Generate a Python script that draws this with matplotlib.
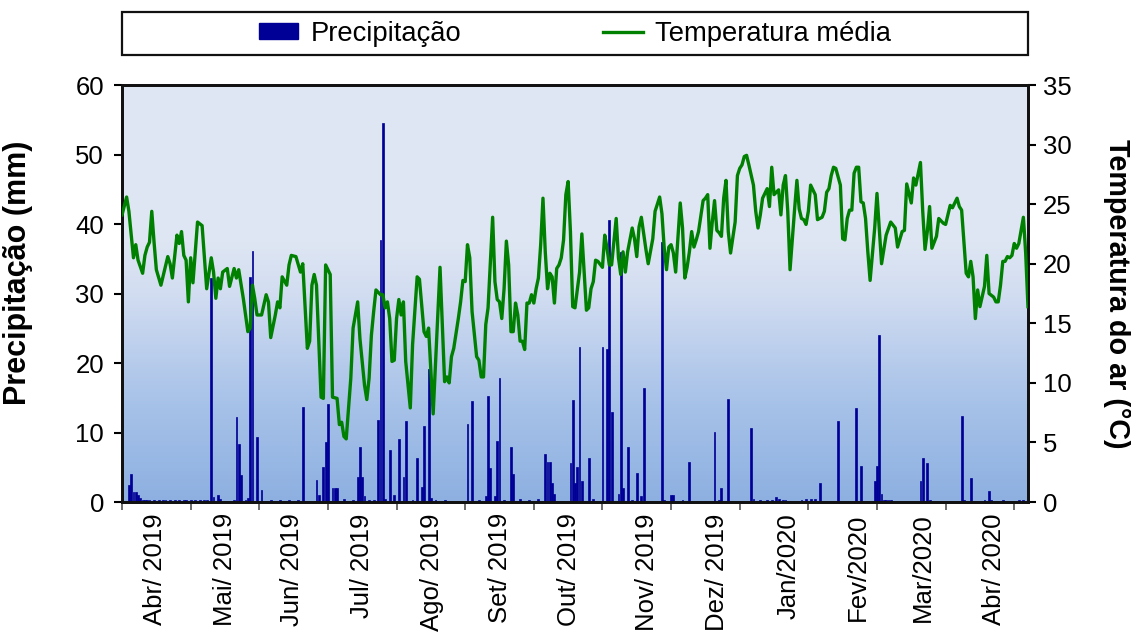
import numpy as np
import matplotlib
matplotlib.use('Agg')
import matplotlib.pyplot as plt
from matplotlib.colors import LinearSegmentedColormap
from matplotlib.patches import Rectangle
from matplotlib.lines import Line2D

plt.rcParams['font.family'] = ['Liberation Sans', 'DejaVu Sans']

# daily series, day 0 = first day of record (late Mar 2019)
n_days = 397

# mean air temperature (deg C), vertices
temp_day = [0, 2, 3, 5, 6, 7, 9, 10, 11, 12, 13, 14, 15, 17, 20, 21, 22, 24, 25, 26,
            27, 28, 29, 30, 31, 33, 35, 37, 39, 40, 41, 42, 43, 44, 46, 47, 49, 50, 51, 53,
            55, 56, 57, 58, 59, 61, 63, 64, 65, 67, 68, 69, 70, 72, 73, 74, 76, 78, 79, 81,
            82, 83, 84, 85, 87, 88, 89, 91, 92, 94, 95, 96, 97, 98, 100, 101, 103, 104, 106, 107,
            108, 109, 110, 111, 113, 114, 115, 116, 117, 118, 119, 120, 121, 122, 123, 124, 126, 127, 129, 130,
            132, 133, 134, 136, 139, 141, 142, 143, 144, 145, 147, 148, 149, 150, 151, 152, 153, 155, 156, 157,
            158, 159, 160, 162, 163, 164, 165, 166, 167, 168, 169, 170, 171, 172, 173, 174, 175, 176, 177, 178,
            179, 180, 181, 182, 183, 184, 185, 186, 187, 188, 189, 190, 191, 192, 193, 194, 195, 196, 197, 198,
            200, 201, 203, 204, 205, 206, 207, 208, 210, 211, 212, 213, 214, 216, 217, 218, 219, 220, 221, 223,
            224, 225, 226, 227, 229, 230, 232, 233, 235, 236, 237, 238, 239, 240, 241, 242, 244, 245, 246, 247,
            248, 249, 250, 251, 252, 254, 255, 256, 257, 258, 259, 260, 261, 262, 263, 264, 265, 266, 268, 269,
            270, 271, 272, 273, 274, 276, 277, 278, 279, 280, 282, 283, 284, 285, 286, 287, 288, 289, 290, 291,
            292, 294, 295, 296, 297, 298, 299, 300, 301, 303, 304, 306, 307, 308, 309, 310, 311, 312, 314, 315,
            316, 317, 318, 319, 320, 321, 322, 323, 324, 325, 326, 327, 329, 330, 332, 334, 336, 338, 339, 341,
            342, 343, 345, 346, 347, 349, 350, 351, 352, 353, 354, 356, 357, 359, 360, 361, 362, 363, 365, 366,
            367, 368, 369, 370, 371, 372, 373, 374, 375, 377, 378, 379, 381, 382, 383, 384, 385, 386, 387, 388,
            389, 390, 391, 392, 394, 395, 396]
temp_c = [24.1, 25.6, 24.4, 20.5, 21.6, 20.3, 19.2, 20.7, 21.4, 21.8, 24.4, 21.8, 19.5, 18.2, 20.6, 20.0, 18.8, 22.4, 21.7, 22.7,
          20.7, 20.3, 16.8, 20.5, 18.4, 23.5, 23.2, 17.9, 20.5, 19.3, 17.1, 18.8, 17.9, 19.3, 19.6, 18.1, 19.6, 18.8, 19.5, 17.1,
          14.3, 14.6, 18.2, 17.1, 15.7, 15.7, 17.4, 16.8, 13.8, 15.7, 16.8, 16.3, 18.9, 18.2, 19.9, 20.7, 20.6, 19.3, 20.0, 12.9,
          13.5, 18.2, 19.1, 18.2, 8.8, 8.7, 19.9, 19.1, 8.8, 8.7, 6.5, 6.7, 5.5, 5.3, 10.4, 14.6, 16.8, 13.7, 9.8, 8.6,
          10.4, 14.0, 16.0, 17.8, 17.4, 17.4, 16.3, 16.8, 15.4, 11.8, 11.9, 15.4, 17.0, 15.7, 16.8, 11.8, 7.9, 13.2, 18.9, 18.7,
          14.3, 13.9, 14.6, 7.4, 19.7, 10.1, 10.5, 10.0, 12.2, 12.9, 15.4, 16.8, 18.6, 18.5, 21.6, 20.5, 16.0, 12.2, 11.9, 10.5,
          10.5, 14.9, 16.3, 23.9, 18.5, 17.0, 16.8, 15.4, 17.9, 21.9, 19.9, 14.3, 14.3, 16.7, 15.7, 13.5, 13.5, 12.8, 16.7, 16.7,
          17.4, 16.7, 17.9, 18.8, 21.6, 25.5, 21.0, 17.9, 19.2, 18.9, 16.7, 19.6, 19.9, 20.5, 22.0, 25.8, 26.9, 22.7, 16.4, 16.3,
          19.3, 22.5, 16.1, 16.3, 17.9, 18.5, 20.3, 20.2, 19.7, 22.4, 21.3, 19.9, 19.9, 23.8, 20.5, 19.1, 21.0, 19.3, 21.0, 23.0,
          22.1, 20.6, 23.1, 23.9, 21.2, 20.0, 22.1, 24.4, 25.6, 24.2, 21.3, 19.5, 21.4, 21.6, 20.9, 19.3, 25.1, 23.0, 18.8, 19.7,
          21.0, 22.7, 21.4, 22.0, 22.7, 25.3, 25.5, 25.8, 21.3, 23.5, 25.3, 22.8, 22.6, 22.3, 25.5, 27.0, 22.7, 20.9, 23.5, 27.4,
          28.0, 28.3, 29.0, 29.1, 28.3, 26.6, 24.4, 23.0, 24.1, 25.5, 26.3, 24.8, 28.1, 25.8, 26.0, 26.2, 24.1, 26.6, 27.4, 24.4,
          19.5, 24.6, 27.0, 24.6, 23.8, 23.7, 23.3, 24.4, 26.6, 25.8, 23.7, 23.9, 24.4, 26.0, 26.3, 27.4, 28.1, 28.0, 26.6, 22.1,
          22.0, 23.8, 24.5, 24.5, 27.6, 28.1, 28.1, 25.2, 25.1, 23.8, 21.0, 18.6, 23.0, 25.9, 20.0, 22.4, 23.5, 23.0, 21.4, 22.7,
          22.8, 26.7, 25.1, 27.2, 26.6, 28.5, 24.4, 21.2, 22.7, 24.8, 21.3, 22.3, 23.8, 23.4, 23.3, 24.1, 24.9, 24.7, 25.5, 24.8,
          24.5, 21.8, 19.2, 18.9, 20.2, 18.9, 15.4, 17.8, 16.4, 18.1, 20.7, 17.5, 17.2, 16.8, 16.8, 18.2, 20.2, 20.2, 20.6, 20.5,
          20.7, 21.7, 21.3, 21.7, 23.9, 20.9, 16.4]

# precipitation (mm) on rainy days
precip_day = [3, 4, 5, 6, 7, 8, 9, 10, 11, 12, 14, 16, 18, 19, 21, 23, 25, 27, 28, 30,
              32, 34, 36, 37, 39, 40, 42, 43, 45, 47, 49, 50, 51, 52, 54, 55, 56, 57, 59, 61,
              63, 65, 67, 69, 71, 73, 75, 77, 79, 85, 86, 88, 89, 90, 92, 93, 94, 97, 99, 101,
              103, 104, 105, 106, 108, 110, 112, 113, 114, 115, 117, 119, 121, 123, 124, 127, 129, 131, 132, 134,
              135, 137, 141, 146, 151, 153, 156, 159, 160, 161, 163, 164, 165, 167, 170, 171, 174, 178, 182, 185,
              186, 187, 188, 189, 192, 196, 197, 198, 199, 200, 201, 204, 206, 210, 212, 213, 214, 217, 218, 219,
              221, 223, 225, 227, 228, 236, 237, 240, 241, 245, 248, 259, 261, 262, 265, 275, 276, 279, 282, 284,
              286, 287, 289, 290, 292, 297, 299, 301, 303, 305, 313, 321, 323, 329, 330, 331, 332, 333, 334, 335,
              336, 349, 350, 352, 353, 367, 368, 371, 377, 379, 380, 385, 392, 394]
precip_mm = [2.4, 4.0, 1.5, 1.5, 1.0, 0.6, 0.3, 0.3, 0.3, 0.3, 0.3, 0.3, 0.3, 0.3, 0.3, 0.3, 0.3, 0.3, 0.3, 0.3,
             0.3, 0.3, 0.3, 0.3, 32.3, 0.7, 1.0, 0.5, 0.2, 0.2, 0.3, 12.2, 8.4, 3.9, 0.3, 0.6, 32.4, 36.1, 9.3, 1.8,
             0.2, 0.3, 0.2, 0.3, 0.2, 0.3, 0.2, 0.3, 13.7, 3.2, 1.0, 5.1, 8.7, 14.1, 2.0, 2.0, 2.0, 0.5, 0.2, 0.3,
             3.6, 7.9, 3.6, 0.8, 0.3, 0.3, 11.8, 37.7, 54.5, 0.5, 7.5, 1.0, 9.1, 3.6, 11.7, 0.3, 6.4, 2.2, 11.0, 19.2,
             0.6, 0.3, 0.3, 0.2, 11.2, 14.6, 0.3, 0.8, 15.3, 4.9, 0.8, 8.8, 17.8, 0.3, 7.9, 4.1, 0.4, 0.3, 0.5, 6.9,
             5.8, 5.8, 2.8, 1.2, 0.2, 5.6, 14.7, 2.7, 5.1, 22.3, 3.0, 6.4, 0.4, 22.3, 22.0, 40.6, 13.0, 1.2, 36.0, 2.0,
             7.9, 0.3, 4.2, 0.8, 16.4, 37.4, 0.3, 1.0, 1.0, 0.3, 5.8, 10.1, 0.3, 2.0, 14.8, 10.6, 0.5, 0.3, 0.3, 0.3,
             0.7, 0.5, 0.3, 0.3, 0.2, 0.3, 0.5, 0.4, 0.5, 2.8, 11.7, 13.6, 5.2, 3.0, 5.2, 24.0, 1.2, 0.3, 0.3, 0.3,
             0.3, 3.0, 6.4, 5.6, 0.3, 12.4, 0.3, 3.4, 0.3, 1.6, 0.3, 0.3, 0.3, 0.3]

month_labels = ['Abr/ 2019', 'Mai/ 2019', 'Jun/ 2019', 'Jul/ 2019', 'Ago/ 2019', 'Set/ 2019',
                'Out/ 2019', 'Nov/ 2019', 'Dez/ 2019', 'Jan/2020', 'Fev/2020', 'Mar/2020', 'Abr/ 2020']
month_label_day = [14.5, 45, 74.5, 105, 135.5, 165, 195.5, 229.5, 260, 291.5, 321.5, 350, 381]

bar_color = '#000096'
line_color = '#008000'

fig = plt.figure(figsize=(11.31, 6.35), dpi=100)
ax = fig.add_axes([0.1079, 0.2094, 0.801, 0.6567])
ax2 = ax.twinx()

# background gradient: light at the top, deeper blue near the bottom
grad_cmap = LinearSegmentedColormap.from_list(
    'bg', [(0.0, '#8db0e1'), (0.25, '#a9c3e9'), (0.5, '#d2ddf1'), (0.62, '#dee6f3'), (1.0, '#dfe7f4')])
grad = np.linspace(0, 1, 256).reshape(-1, 1)
ax.imshow(grad, cmap=grad_cmap, origin='lower', aspect='auto', extent=[0, 1, 0, 1],
          transform=ax.transAxes, zorder=0)

ax.bar(precip_day, precip_mm, width=0.8, color=bar_color, edgecolor=bar_color,
       linewidth=0.5, zorder=2)
ax2.plot(temp_day, temp_c, color=line_color, linewidth=2.4, solid_joinstyle='round', zorder=3)

ax.set_xlim(0, n_days - 1)
ax.set_ylim(0, 60)
ax2.set_ylim(0, 35)
ax.set_yticks(np.arange(0, 61, 10))
ax2.set_yticks(np.arange(0, 36, 5))

ax.set_xticks(np.arange(0, n_days, 30))
ax.set_xticklabels([])
ax.set_xticks(month_label_day, minor=True)
ax.set_xticklabels(month_labels, minor=True, rotation=90, fontsize=18.5)
ax.tick_params(axis='x', which='minor', length=0, pad=8)
ax.tick_params(axis='x', which='major', length=6, width=1.2, direction='out', color='#555555')
ax.tick_params(axis='y', labelsize=18.5, length=6, width=1.5, pad=7)
ax2.tick_params(axis='y', labelsize=18.5, length=6, width=1.5, pad=5)

for a in (ax, ax2):
    for s in a.spines.values():
        s.set_linewidth(2.0)
        s.set_color('#111111')

ax.set_ylabel('Precipitação (mm)', fontsize=22, fontweight='bold')
ax.yaxis.set_label_coords(-0.098, 0.55)
ax2.set_ylabel('Temperatura do ar (°C)', fontsize=20.7, fontweight='bold', rotation=270,
               va='center')
ax2.yaxis.set_label_coords(1.098, 0.5)

# legend box across the top
box = Rectangle((0.1079, 0.9134), 0.801, 0.0677, transform=fig.transFigure,
                facecolor='white', edgecolor='#111111', linewidth=1.6)
fig.patches.append(box)
handles = [Rectangle((0, 0), 1, 1, facecolor=bar_color, edgecolor=bar_color),
           Line2D([0], [0], color=line_color, linewidth=2.4)]
fig.legend(handles, ['Precipitação', 'Temperatura média'], loc='center',
           bbox_to_anchor=(0.1079 + 0.4005, 0.9134 + 0.0338), ncol=2, frameon=False,
           fontsize=19.7, handlelength=1.45, handleheight=0.55, handletextpad=0.45,
           columnspacing=5.2, borderpad=0)

fig.savefig('out.png', dpi=100)
